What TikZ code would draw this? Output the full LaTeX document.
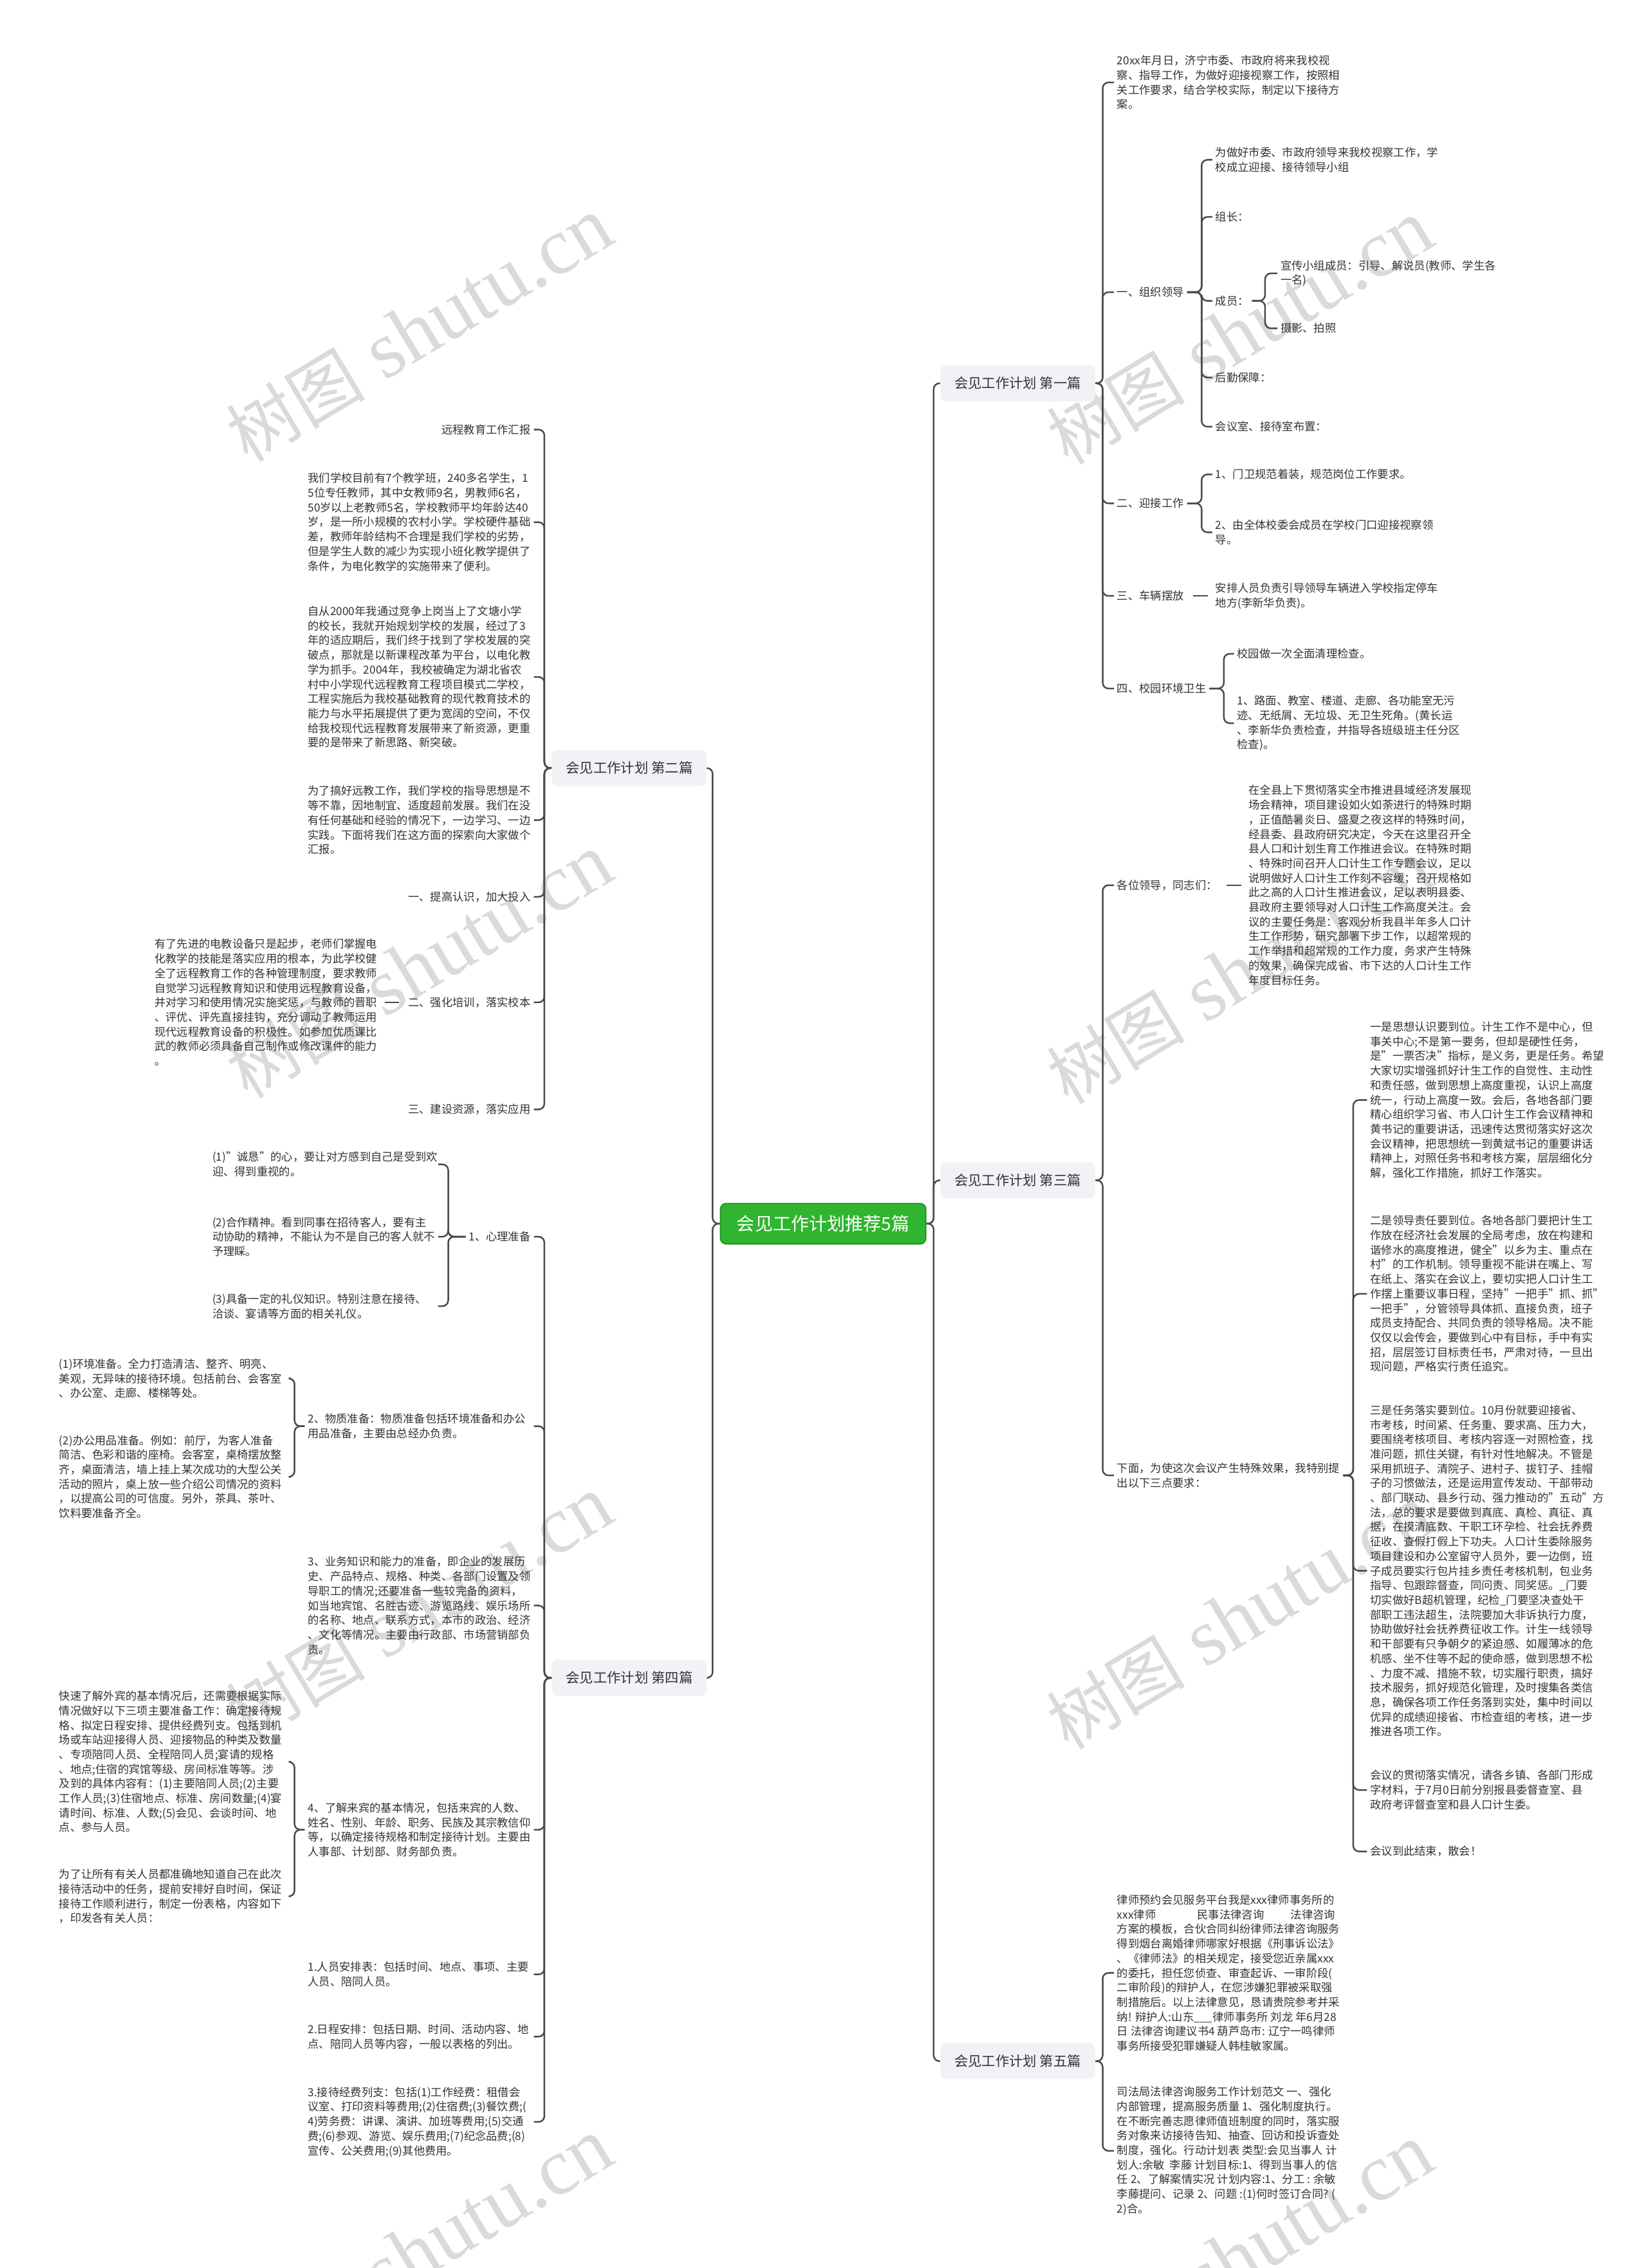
\documentclass[tikz,border=0pt]{standalone}
\usepackage{fontspec}
\setmainfont{Noto Sans CJK SC}
\newfontfamily\wmserif{Liberation Serif}
\definecolor{txtc}{HTML}{333333}
\definecolor{linec}{HTML}{4A4A4A}
\definecolor{brc}{HTML}{F0F2F5}
\definecolor{rootg}{HTML}{2FB52F}
\definecolor{rootd}{HTML}{1F8F1F}
\definecolor{wmc}{HTML}{DADADA}
\begin{document}
\begin{tikzpicture}[x=1pt,y=-1pt,
  txt/.style={font=\fontsize{7.7}{10.1}\selectfont, text=txtc, align=left, inner xsep=2pt, inner ysep=1pt},
  R/.style={txt, anchor=west},
  L/.style={txt, anchor=east},
  Lw/.style={txt, anchor=east, text width=154pt},
  Lww/.style={txt, anchor=east, text width=158pt},
  conn/.style={draw=linec, line width=1.1pt, rounded corners=4pt},
  solo/.style={draw=linec, line width=1.1pt, shorten <=4pt, shorten >=3pt},
  branch/.style={fill=brc, rounded corners=4pt, font=\fontsize{9.5}{11}\selectfont, text=txtc, minimum height=25pt, minimum width=107pt, inner xsep=4pt},
  rootn/.style={fill=rootg, draw=rootd, line width=0.8pt, rounded corners=4pt, text=white, font=\fontsize{12.5}{14}\selectfont, minimum height=28pt, minimum width=142pt},
  wm/.style={rotate=31, text=wmc, inner sep=0pt}
]
\fill[white] (0,0) rectangle (1139,1568);
\useasboundingbox (0,0) rectangle (1139,1568);

% watermarks
\newcommand{\wmtext}{{\fontsize{48}{48}\selectfont 树图\hspace{14pt}}{\wmserif\fontsize{56}{56}\selectfont shutu.cn}}
\node[wm] (wm1) at (290,228) {\wmtext};
\node[wm] (wm2) at (290,668) {\wmtext};
\node[wm] (wm3) at (290,1112) {\wmtext};
\node[wm] (wm4) at (290,1556) {\wmtext};
\node[wm] (wm5) at (857,230) {\wmtext};
\node[wm] (wm6) at (857,672) {\wmtext};
\node[wm] (wm7) at (857,1118) {\wmtext};
\node[wm] (wm8) at (857,1560) {\wmtext};

% root and branches
\node[rootn] (root) at (569,846) {会见工作计划推荐5篇};
\node[branch] (B1) at (703.5,265) {会见工作计划 第一篇};
\node[branch] (B3) at (703.5,816) {会见工作计划 第三篇};
\node[branch] (B5) at (703.5,1425) {会见工作计划 第五篇};
\node[branch] (B2) at (435,531) {会见工作计划 第二篇};
\node[branch] (B4) at (435,1160) {会见工作计划 第四篇};

\draw[conn] (root.east) -- ++(5,0) |- (B1.west);
\draw[conn] (root.east) -- ++(5,0) |- (B3.west);
\draw[conn] (root.east) -- ++(5,0) |- (B5.west);
\draw[conn] (root.west) -- ++(-5,0) |- (B2.east);
\draw[conn] (root.west) -- ++(-5,0) |- (B4.east);

% ---------- 第一篇 ----------
\node[R] (c1) at (770,57) {20xx年月日，济宁市委、市政府将来我校视\\察、指导工作，为做好迎接视察工作，按照相\\关工作要求，结合学校实际，制定以下接待方\\案。};
\node[R] (c2) at (770,202) {一、组织领导};
\node[R] (g1) at (838,110.5) {为做好市委、市政府领导来我校视察工作，学\\校成立迎接、接待领导小组};
\node[R] (g2) at (838,150) {组长：};
\node[R] (g3) at (838,208) {成员：};
\node[R] (h1) at (883,189) {宣传小组成员：引导、解说员(教师、学生各\\一名)};
\node[R] (h2) at (883,227) {摄影、拍照};
\node[R] (g4) at (838,261) {后勤保障：};
\node[R] (g5) at (838,295) {会议室、接待室布置：};
\node[R] (c3) at (770,348) {二、迎接工作};
\node[R] (i1) at (838,328) {1、门卫规范着装，规范岗位工作要求。};
\node[R] (i2) at (838,368) {2、由全体校委会成员在学校门口迎接视察领\\导。};
\node[R] (c4) at (770,412) {三、车辆摆放};
\node[R] (j1) at (838,412) {安排人员负责引导领导车辆进入学校指定停车\\地方(李新华负责)。};
\node[R] (c5) at (770,476) {四、校园环境卫生};
\node[R] (l1) at (853,452) {校园做一次全面清理检查。};
\node[R] (l2) at (853,500) {1、路面、教室、楼道、走廊、各功能室无污\\迹、无纸屑、无垃圾、无卫生死角。(黄长运\\、李新华负责检查，并指导各班级班主任分区\\检查)。};

\foreach \c in {c1,c2,c3,c4,c5} \draw[conn] (B1.east) -- ++(5,0) |- (\c.west);
\foreach \c in {g1,g2,g3,g4,g5} \draw[conn] (c2.east) -- ++(10,0) |- (\c.west);
\foreach \c in {h1,h2} \draw[conn] (g3.east) -- ++(9,0) |- (\c.west);
\foreach \c in {i1,i2} \draw[conn] (c3.east) -- ++(10,0) |- (\c.west);
\draw[solo] (c4.east) -- (j1.west);
\foreach \c in {l1,l2} \draw[conn] (c5.east) -- ++(10,0) |- (\c.west);

% ---------- 第三篇 ----------
\node[R] (d1) at (770,612) {各位领导，同志们：};
\node[R] (e1) at (861,612) {在全县上下贯彻落实全市推进县域经济发展现\\场会精神，项目建设如火如荼进行的特殊时期\\，正值酷暑炎日、盛夏之夜这样的特殊时间，\\经县委、县政府研究决定，今天在这里召开全\\县人口和计划生育工作推进会议。在特殊时期\\、特殊时间召开人口计生工作专题会议，足以\\说明做好人口计生工作刻不容缓；召开规格如\\此之高的人口计生推进会议，足以表明县委、\\县政府主要领导对人口计生工作高度关注。会\\议的主要任务是：客观分析我县半年多人口计\\生工作形势，研究部署下步工作，以超常规的\\工作举措和超常规的工作力度，务求产生特殊\\的效果，确保完成省、市下达的人口计生工作\\年度目标任务。};
\node[R] (d2) at (770,1020) {下面，为使这次会议产生特殊效果，我特别提\\出以下三点要求：};
\node[R] (f1) at (945,760.5) {一是思想认识要到位。计生工作不是中心，但\\事关中心;不是第一要务，但却是硬性任务，\\是"一票否决"指标，是义务，更是任务。希望\\大家切实增强抓好计生工作的自觉性、主动性\\和责任感，做到思想上高度重视，认识上高度\\统一，行动上高度一致。会后，各地各部门要\\精心组织学习省、市人口计生工作会议精神和\\黄书记的重要讲话，迅速传达贯彻落实好这次\\会议精神，把思想统一到黄斌书记的重要讲话\\精神上，对照任务书和考核方案，层层细化分\\解，强化工作措施，抓好工作落实。};
\node[R] (f2) at (945,894.5) {二是领导责任要到位。各地各部门要把计生工\\作放在经济社会发展的全局考虑，放在构建和\\谐修水的高度推进，健全"以乡为主、重点在\\村"的工作机制。领导重视不能讲在嘴上、写\\在纸上、落实在会议上，要切实把人口计生工\\作摆上重要议事日程，坚持"一把手"抓、抓"\\一把手"，分管领导具体抓、直接负责，班子\\成员支持配合、共同负责的领导格局。决不能\\仅仅以会传会，要做到心中有目标，手中有实\\招，层层签订目标责任书，严肃对待，一旦出\\现问题，严格实行责任追究。};
\node[R] (f3) at (945,1086) {三是任务落实要到位。10月份就要迎接省、\\市考核，时间紧、任务重、要求高、压力大，\\要围绕考核项目、考核内容逐一对照检查，找\\准问题，抓住关键，有针对性地解决。不管是\\采用抓班子、清院子、进村子、拔钉子、挂帽\\子的习惯做法，还是运用宣传发动、干部带动\\、部门联动、县乡行动、强力推动的"五动"方\\法，总的要求是要做到真底、真检、真征、真\\据，在摸清底数、干职工环孕检、社会抚养费\\征收、查假打假上下功夫。人口计生委除服务\\项目建设和办公室留守人员外，要一边倒，班\\子成员要实行包片挂乡责任考核机制，包业务\\指导、包跟踪督查，同问责、同奖惩。\_门要\\切实做好B超机管理，纪检\_门要坚决查处干\\部职工违法超生，法院要加大非诉执行力度，\\协助做好社会抚养费征收工作。计生一线领导\\和干部要有只争朝夕的紧迫感、如履薄冰的危\\机感、坐不住等不起的使命感，做到思想不松\\、力度不减、措施不软，切实履行职责，搞好\\技术服务，抓好规范化管理，及时搜集各类信\\息，确保各项工作任务落到实处，集中时间以\\优异的成绩迎接省、市检查组的考核，进一步\\推进各项工作。};
\node[R] (f4) at (945,1237.5) {会议的贯彻落实情况，请各乡镇、各部门形成\\字材料，于7月0日前分别报县委督查室、县\\政府考评督查室和县人口计生委。};
\node[R] (f5) at (945,1280) {会议到此结束，散会！};

\foreach \c in {d1,d2} \draw[conn] (B3.east) -- ++(5,0) |- (\c.west);
\draw[solo] (d1.east) -- (e1.west);
\foreach \c in {f1,f2,f3,f4,f5} \draw[conn] (d2.east) -- ++(7,0) |- (\c.west);

% ---------- 第五篇 ----------
\node[R] (k1) at (770,1364) {律师预约会见服务平台我是xxx律师事务所的\\xxx律师\hspace{3.7em}民事法律咨询\hspace{2.4em}法律咨询\\方案的模板，合伙合同纠纷律师法律咨询服务\\得到烟台离婚律师哪家好根据《刑事诉讼法》\\、《律师法》的相关规定，接受您近亲属xxx\\的委托，担任您侦查、审查起诉、一审阶段(\\二审阶段)的辩护人，在您涉嫌犯罪被采取强\\制措施后。以上法律意见，恳请贵院参考并采\\纳! 辩护人:山东\_\_\_律师事务所 刘龙 年6月28\\日 法律咨询建议书4 葫芦岛市: 辽宁一鸣律师\\事务所接受犯罪嫌疑人韩桂敏家属。};
\node[R] (k2) at (770,1487) {司法局法律咨询服务工作计划范文 一、强化\\内部管理，提高服务质量 1、强化制度执行。\\在不断完善志愿律师值班制度的同时，落实服\\务对象来访接待告知、抽查、回访和投诉查处\\制度，强化。行动计划表 类型:会见当事人 计\\划人:余敏\ \ 李藤 计划目标:1、得到当事人的信\\任 2、了解案情实况 计划内容:1、分工 : 余敏\\李藤提问、记录 2、问题 :(1)何时签订合同? (\\2)合。};
\foreach \c in {k1,k2} \draw[conn] (B5.east) -- ++(5,0) |- (\c.west);

% ---------- 第二篇 ----------
\node[L] (a1) at (369,297) {远程教育工作汇报};
\node[Lw] (a2) at (369,361) {我们学校目前有7个教学班，240多名学生，1\\5位专任教师，其中女教师9名，男教师6名，\\50岁以上老教师5名，学校教师平均年龄达40\\岁，是一所小规模的农村小学。学校硬件基础\\差，教师年龄结构不合理是我们学校的劣势，\\但是学生人数的减少为实现小班化教学提供了\\条件，为电化教学的实施带来了便利。};
\node[Lw] (a3) at (369,468) {自从2000年我通过竞争上岗当上了文塘小学\\的校长，我就开始规划学校的发展，经过了3\\年的适应期后，我们终于找到了学校发展的突\\破点，那就是以新课程改革为平台，以电化教\\学为抓手。2004年，我校被确定为湖北省农\\村中小学现代远程教育工程项目模式二学校，\\工程实施后为我校基础教育的现代教育技术的\\能力与水平拓展提供了更为宽阔的空间，不仅\\给我校现代远程教育发展带来了新资源，更重\\要的是带来了新思路、新突破。};
\node[Lw] (a4) at (369,567) {为了搞好远教工作，我们学校的指导思想是不\\等不靠，因地制宜、适度超前发展。我们在没\\有任何基础和经验的情况下，一边学习、一边\\实践。下面将我们在这方面的探索向大家做个\\汇报。};
\node[L] (a5) at (369,620) {一、提高认识，加大投入};
\node[L] (a6) at (369,693) {二、强化培训，落实校本};
\node[Lw] (a6c) at (263,693) {有了先进的电教设备只是起步，老师们掌握电\\化教学的技能是落实应用的根本，为此学校健\\全了远程教育工作的各种管理制度，要求教师\\自觉学习远程教育知识和使用远程教育设备，\\并对学习和使用情况实施奖惩，与教师的晋职\\、评优、评先直接挂钩，充分调动了教师运用\\现代远程教育设备的积极性。如参加优质课比\\武的教师必须具备自己制作或修改课件的能力\\。};
\node[L] (a7) at (369,767) {三、建设资源，落实应用};
\foreach \c in {a1,a2,a3,a4,a5,a6,a7} \draw[conn] (B2.west) -- ++(-5,0) |- (\c.east);
\draw[solo] (a6.west) -- (a6c.east);

% ---------- 第四篇 ----------
\node[L] (b1) at (369,855) {1、心理准备};
\node[Lw] (b1a) at (303,805) {(1)"诚恳"的心，要让对方感到自己是受到欢\\迎、得到重视的。};
\node[Lw] (b1b) at (303,855) {(2)合作精神。看到同事在招待客人，要有主\\动协助的精神，不能认为不是自己的客人就不\\予理睬。};
\node[Lw] (b1c) at (303,903) {(3)具备一定的礼仪知识。特别注意在接待、\\洽谈、宴请等方面的相关礼仪。};
\node[Lw] (b2) at (369,986) {2、物质准备：物质准备包括环境准备和办公\\用品准备，主要由总经办负责。};
\node[Lww] (b2a) at (201,953) {(1)环境准备。全力打造清洁、整齐、明亮、\\美观，无异味的接待环境。包括前台、会客室\\、办公室、走廊、楼梯等处。};
\node[Lww] (b2b) at (201,1021) {(2)办公用品准备。例如：前厅，为客人准备\\简洁、色彩和谐的座椅。会客室，桌椅摆放整\\齐，桌面清洁，墙上挂上某次成功的大型公关\\活动的照片，桌上放一些介绍公司情况的资料\\，以提高公司的可信度。另外，茶具、茶叶、\\饮料要准备齐全。};
\node[Lw] (b3) at (369,1110) {3、业务知识和能力的准备，即企业的发展历\\史、产品特点、规格、种类、各部门设置及领\\导职工的情况;还要准备一些较完备的资料，\\如当地宾馆、名胜古迹、游览路线、娱乐场所\\的名称、地点、联系方式，本市的政治、经济\\、文化等情况。主要由行政部、市场营销部负\\责。};
\node[Lw] (b4) at (369,1265) {4、了解来宾的基本情况，包括来宾的人数、\\姓名、性别、年龄、职务、民族及其宗教信仰\\等，以确定接待规格和制定接待计划。主要由\\人事部、计划部、财务部负责。};
\node[Lww] (b4a) at (201,1218) {快速了解外宾的基本情况后，还需要根据实际\\情况做好以下三项主要准备工作：确定接待规\\格、拟定日程安排、提供经费列支。包括到机\\场或车站迎接得人员、迎接物品的种类及数量\\、专项陪同人员、全程陪同人员;宴请的规格\\、地点;住宿的宾馆等级、房间标准等等。涉\\及到的具体内容有：(1)主要陪同人员;(2)主要\\工作人员;(3)住宿地点、标准、房间数量;(4)宴\\请时间、标准、人数;(5)会见、会谈时间、地\\点、参与人员。};
\node[Lww] (b4b) at (201,1311) {为了让所有有关人员都准确地知道自己在此次\\接待活动中的任务，提前安排好自时间，保证\\接待工作顺利进行，制定一份表格，内容如下\\，印发各有关人员：};
\node[Lw] (b5) at (369,1365) {1.人员安排表：包括时间、地点、事项、主要\\人员、陪同人员。};
\node[Lw] (b6) at (369,1408) {2.日程安排：包括日期、时间、活动内容、地\\点、陪同人员等内容，一般以表格的列出。};
\node[Lw] (b7) at (369,1467) {3.接待经费列支：包括(1)工作经费：租借会\\议室、打印资料等费用;(2)住宿费;(3)餐饮费;(\\4)劳务费：讲课、演讲、加班等费用;(5)交通\\费;(6)参观、游览、娱乐费用;(7)纪念品费;(8)\\宣传、公关费用;(9)其他费用。};

\foreach \c in {b1,b2,b3,b4,b5,b6,b7} \draw[conn] (B4.west) -- ++(-5,0) |- (\c.east);
\foreach \c in {b1a,b1b,b1c} \draw[conn] (b1.west) -- ++(-12,0) |- (\c.east);
\foreach \c in {b2a,b2b} \draw[conn] (b2.west) -- ++(-7,0) |- (\c.east);
\foreach \c in {b4a,b4b} \draw[conn] (b4.west) -- ++(-7,0) |- (\c.east);
\end{tikzpicture}
\end{document}
